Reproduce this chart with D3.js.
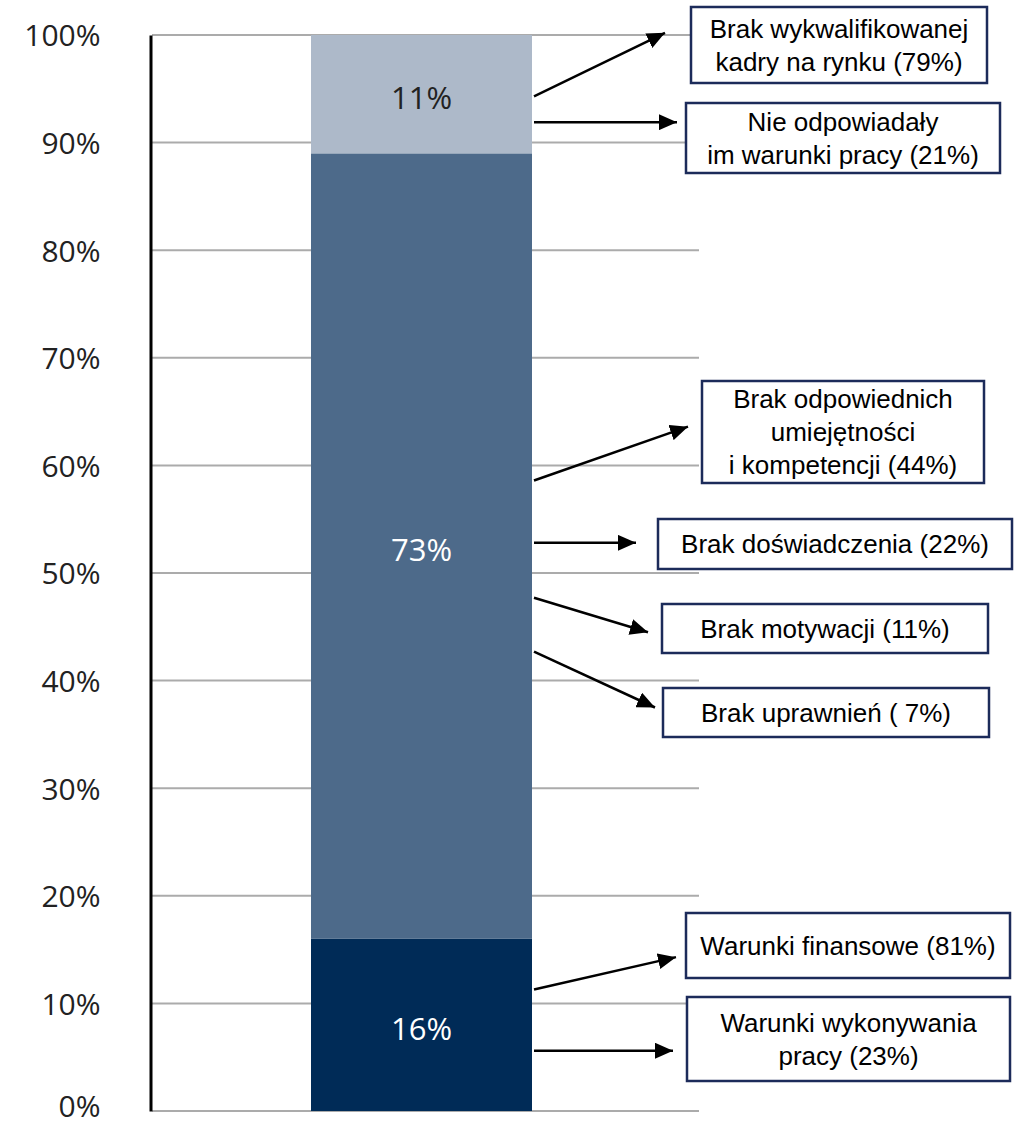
<!DOCTYPE html>
<html>
<head>
<meta charset="utf-8">
<script src="https://cdn.jsdelivr.net/npm/d3@7"></script>
<style>
  body { margin: 0; background: #fff; }
  svg { display: block; }
</style>
</head>
<body>
<script>
// stacked shares (bottom -> top)
const segments = ["Warunki", "Kwalifikacje", "Rynek"];
const shares = [16, 73, 11];
const shareLabels = ["16%", "73%", "11%"];
const segColors = ["#002b57", "#4d6a8a", "#adb9c9"];
const labelColors = ["#fff", "#fff", "#222"];

const tickValues = [0, 10, 20, 30, 40, 50, 60, 70, 80, 90, 100];

// callouts: text lines, arrow start/end (in % of the axis)
const calloutText = [
  ["Brak wykwalifikowanej", "kadry na rynku (79%)"],
  ["Nie odpowiadały", "im warunki pracy (21%)"],
  ["Brak odpowiednich", "umiejętności", "i kompetencji (44%)"],
  ["Brak doświadczenia (22%)"],
  ["Brak motywacji (11%)"],
  ["Brak uprawnień ( 7%)"],
  ["Warunki finansowe (81%)"],
  ["Warunki wykonywania", "pracy (23%)"]
];
const arrowFrom = [94.3, 91.9, 58.6, 52.8, 47.7, 42.7, 11.3, 5.6];
const arrowTo = [100.2, 91.9, 63.6, 52.8, 44.5, 37.5, 14.3, 5.6];

// layout of the boxes (pixels) and arrow tips
const boxes = [
  {x0: 691, x1: 987, y0: 7, y1: 83, tip: 665},
  {x0: 686, x1: 1000, y0: 103, y1: 173, tip: 677},
  {x0: 702, x1: 984, y0: 381, y1: 483, tip: 688},
  {x0: 658, x1: 1012, y0: 519, y1: 569, tip: 636},
  {x0: 662, x1: 988, y0: 604, y1: 653, tip: 648},
  {x0: 663, x1: 989, y0: 688, y1: 737, tip: 655},
  {x0: 686, x1: 1010, y0: 913, y1: 978, tip: 676},
  {x0: 687, x1: 1010, y0: 997, y1: 1081, tip: 673}
];

const width = 1014, height = 1125;
const svg = d3.select("body").append("svg")
    .attr("width", width)
    .attr("height", height);

const y = d3.scaleLinear().domain([0, 100]).range([1111, 35]);
const x = d3.scaleBand().domain(["all"]).range([311, 532]);

// gridlines
svg.append("g")
    .attr("stroke", "#ababab")
    .attr("stroke-width", 2)
  .selectAll("line")
  .data(tickValues)
  .join("line")
    .attr("x1", 152)
    .attr("x2", 699)
    .attr("y1", d => y(d))
    .attr("y2", d => y(d));

// stacked bar
const stacked = d3.stack().keys(segments)([Object.fromEntries(segments.map((k, i) => [k, shares[i]]))]);
const bar = svg.append("g");
bar.selectAll("rect")
  .data(stacked)
  .join("rect")
    .attr("x", x("all"))
    .attr("width", x.bandwidth())
    .attr("y", d => y(d[0][1]))
    .attr("height", d => y(d[0][0]) - y(d[0][1]))
    .attr("fill", (d, i) => segColors[i]);

bar.selectAll("text")
  .data(stacked)
  .join("text")
    .attr("x", x("all") + x.bandwidth() / 2)
    .attr("y", d => y((d[0][0] + d[0][1]) / 2) + 4)
    .attr("dy", "0.35em")
    .attr("text-anchor", "middle")
    .attr("font-family", "'Open Sans', sans-serif")
    .attr("font-size", 31)
    .attr("fill", (d, i) => labelColors[i])
    .text((d, i) => shareLabels[i]);

// axis
const axis = svg.append("g")
    .attr("transform", "translate(150.5,0)")
    .call(d3.axisLeft(y).tickValues(tickValues).tickSize(0).tickPadding(50)
      .tickFormat(d => d + "%"));
axis.select(".domain").attr("stroke", "#000").attr("stroke-width", 3);
axis.selectAll("text")
    .attr("font-family", "'Open Sans', sans-serif")
    .attr("font-size", 30)
    .attr("fill", "#222")
    .attr("dy", d => d === 0 ? "0.18em" : "0.36em");

// arrows
svg.append("defs").append("marker")
    .attr("id", "head")
    .attr("markerUnits", "userSpaceOnUse")
    .attr("viewBox", "0 0 18 16")
    .attr("refX", 18)
    .attr("refY", 8)
    .attr("markerWidth", 18)
    .attr("markerHeight", 16)
    .attr("orient", "auto")
  .append("path")
    .attr("d", "M0,0L18,8L0,16Z")
    .attr("fill", "#000");

svg.append("g")
    .attr("stroke", "#000")
    .attr("stroke-width", 2.5)
  .selectAll("line")
  .data(boxes)
  .join("line")
    .attr("x1", 534)
    .attr("y1", (d, i) => y(arrowFrom[i]))
    .attr("x2", d => d.tip)
    .attr("y2", (d, i) => y(arrowTo[i]))
    .attr("marker-end", "url(#head)");

// boxes
const box = svg.append("g").selectAll("g")
  .data(boxes)
  .join("g");

box.append("rect")
    .attr("x", d => d.x0)
    .attr("y", d => d.y0)
    .attr("width", d => d.x1 - d.x0)
    .attr("height", d => d.y1 - d.y0)
    .attr("fill", "#fff")
    .attr("stroke", "#1c2b5a")
    .attr("stroke-width", 2.5);

const lineH = 33;
box.append("text")
    .attr("font-family", "'Liberation Sans', Arial, sans-serif")
    .attr("font-size", 26)
    .attr("fill", "#000")
    .attr("text-anchor", "middle")
  .selectAll("tspan")
  .data((d, i) => calloutText[i].map((t, j, arr) => ({t, j, n: arr.length, d})))
  .join("tspan")
    .attr("x", e => (e.d.x0 + e.d.x1) / 2)
    .attr("y", e => (e.d.y0 + e.d.y1) / 2 + (e.j - (e.n - 1) / 2) * lineH)
    .attr("dy", "0.35em")
    .text(e => e.t);
</script>
</body>
</html>
